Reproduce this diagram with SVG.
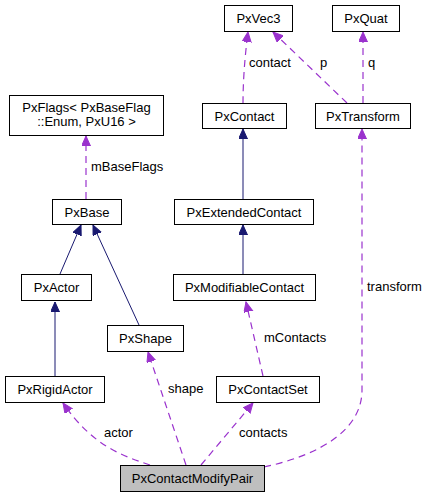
<svg xmlns="http://www.w3.org/2000/svg" width="427" height="497" viewBox="0 0 427 497">
<style>
.box{fill:#fff;stroke:#000;stroke-width:1}
.main{fill:#bfbfbf;stroke:#000;stroke-width:1}
text{font-family:"Liberation Sans",Arial,sans-serif;font-size:13px;fill:#000}
.c{text-anchor:middle}
.inh{fill:none;stroke:#191970;stroke-width:1}
.use{fill:none;stroke:#9a32cd;stroke-width:1.2;stroke-dasharray:7,5}
</style>
<defs>
<marker id="an" markerUnits="userSpaceOnUse" markerWidth="12" markerHeight="10" refX="10" refY="4.5" orient="auto"><path d="M0,0 L10,4.5 L0,9 z" fill="#191970" stroke="#191970"/></marker>
<marker id="ap" markerUnits="userSpaceOnUse" markerWidth="12" markerHeight="10" refX="10" refY="4.5" orient="auto"><path d="M0,0 L10,4.5 L0,9 z" fill="#9a32cd" stroke="#9a32cd"/></marker>
</defs>
<rect width="427" height="497" fill="#fff"/>
<g id="connectors">
<path class="use" d="M86,199 L86,136" marker-end="url(#ap)"/>
<text x="91" y="171">mBaseFlags</text>
<path class="inh" d="M60,274 L81,225" marker-end="url(#an)"/>
<path class="inh" d="M139,325 L93,225" marker-end="url(#an)"/>
<path class="inh" d="M55,376 L55,302" marker-end="url(#an)"/>
<path class="inh" d="M243,199 L243,129" marker-end="url(#an)"/>
<path class="inh" d="M243,274 L243,225" marker-end="url(#an)"/>
<path class="use" d="M243,103 C243,80 245,55 248,32" marker-end="url(#ap)"/>
<text x="249" y="67">contact</text>
<path class="use" d="M347,103 L273,32" marker-end="url(#ap)"/>
<text x="320" y="67">p</text>
<path class="use" d="M363,103 L363,32" marker-end="url(#ap)"/>
<text x="368" y="67">q</text>
<path class="use" d="M263,376 L246,302" marker-end="url(#ap)"/>
<text x="264" y="342">mContacts</text>
<path class="use" d="M264,467 C320,455 362,430 362,390 L362,129" marker-end="url(#ap)"/>
<text x="367" y="291">transform</text>
<path class="use" d="M186,465 L148,352" marker-end="url(#ap)"/>
<text x="168" y="393">shape</text>
<path class="use" d="M150,465 C120,455 92,445 63,403" marker-end="url(#ap)"/>
<text x="104" y="437">actor</text>
<path class="use" d="M201,465 L253,403" marker-end="url(#ap)"/>
<text x="239" y="437">contacts</text>
</g>
<g id="PxVec3"><rect class="box" x="224.5" y="5.5" width="68" height="26"/><text class="c" x="258.5" y="23">PxVec3</text></g>
<g id="PxQuat"><rect class="box" x="332.5" y="5.5" width="67" height="26"/><text class="c" x="366" y="23">PxQuat</text></g>
<g id="PxContact"><rect class="box" x="202.5" y="103.5" width="84" height="25"/><text class="c" x="244.5" y="120.5">PxContact</text></g>
<g id="PxTransform"><rect class="box" x="315.5" y="103.5" width="95" height="25"/><text class="c" x="363" y="120.5">PxTransform</text></g>
<g id="PxFlags"><rect class="box" x="9.5" y="95.5" width="154" height="40"/><text class="c" x="86.5" y="112">PxFlags&lt; PxBaseFlag</text><text class="c" x="86.5" y="126">::Enum, PxU16 &gt;</text></g>
<g id="PxBase"><rect class="box" x="52.5" y="199.5" width="69" height="25"/><text class="c" x="87" y="216.5">PxBase</text></g>
<g id="PxExtendedContact"><rect class="box" x="174.5" y="199.5" width="139" height="25"/><text class="c" x="244" y="216.5">PxExtendedContact</text></g>
<g id="PxActor"><rect class="box" x="21.5" y="274.5" width="70" height="26"/><text class="c" x="56.5" y="292">PxActor</text></g>
<g id="PxModifiableContact"><rect class="box" x="173.5" y="274.5" width="142" height="26"/><text class="c" x="244.5" y="292">PxModifiableContact</text></g>
<g id="PxShape"><rect class="box" x="107.5" y="325.5" width="76" height="26"/><text class="c" x="145.5" y="343">PxShape</text></g>
<g id="PxRigidActor"><rect class="box" x="5.5" y="376.5" width="99" height="26"/><text class="c" x="55" y="394">PxRigidActor</text></g>
<g id="PxContactSet"><rect class="box" x="216.5" y="376.5" width="103" height="26"/><text class="c" x="268" y="394">PxContactSet</text></g>
<g id="PxContactModifyPair"><rect class="main" x="120.5" y="465.5" width="144" height="26"/><text class="c" x="192.5" y="483">PxContactModifyPair</text></g>
</svg>
